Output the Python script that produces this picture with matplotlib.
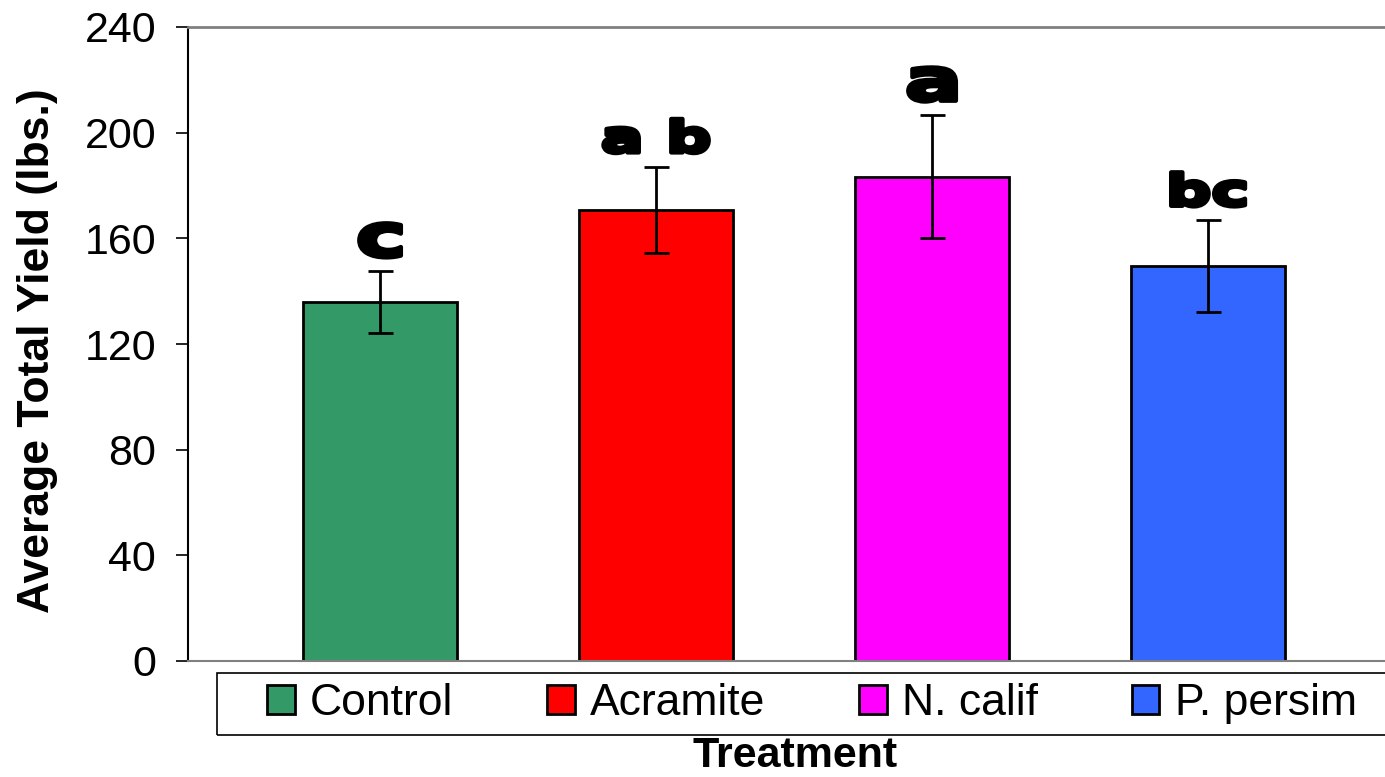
import matplotlib
matplotlib.use("Agg")
import matplotlib.pyplot as plt
from matplotlib.patches import PathPatch, Rectangle
from matplotlib.textpath import TextPath
from matplotlib.font_manager import FontProperties
from matplotlib.transforms import Affine2D
import numpy as np

# data
treatments = ["Control", "Acramite", "N. calif", "P. persim"]
mean_yield = [135.8, 170.7, 183.3, 149.5]
yield_err = [11.7, 16.3, 23.2, 17.3]
sig_letters = ["c", "a b", "a", "bc"]
y_ticks = [0, 40, 80, 120, 160, 200, 240]

COLORS = ["#339966", "#FF0000", "#FF00FF", "#3366FF"]

# letter "stamp" look (wide, heavy)
LETTER_H = 34      # px
LETTER_STRETCH = 1.45
LETTER_GAP = 14    # px above error bar

plt.rcParams["font.family"] = ["Liberation Sans", "DejaVu Sans"]

W, H = 1385, 777
fig = plt.figure(figsize=(W / 100, H / 100), dpi=100)
ax = fig.add_axes([188 / W, 1 - 661 / H, (W - 188) / W, (661 - 27) / H])

x = np.arange(len(treatments))
bars = ax.bar(x, mean_yield, width=0.558, color=COLORS,
              edgecolor="black", linewidth=2.0, zorder=2)
ax.errorbar(x, mean_yield, yerr=yield_err, fmt="none", ecolor="black",
            elinewidth=2.0, capsize=9, capthick=2.0, zorder=3)

ax.set_xlim(-0.696, 3.641)
ax.set_ylim(0, 240)
ax.set_yticks(y_ticks)
ax.set_xticks([])
ax.tick_params(axis="y", length=9, width=1.2, labelsize=31, pad=14, direction="out")

ax.spines["right"].set_visible(False)
ax.spines["top"].set_color("#808080")
ax.spines["top"].set_linewidth(2)
ax.spines["bottom"].set_color("#808080")
ax.spines["bottom"].set_linewidth(1.5)
ax.spines["left"].set_color("black")
ax.spines["left"].set_linewidth(1.5)

ax.set_ylabel("Average Total Yield (lbs.)", fontsize=32, fontweight="bold")
ax.yaxis.set_label_coords(-0.109, 0.49)

fig.text(795 / W, 1 - 767 / H, "Treatment", fontsize=31, fontweight="bold",
         ha="center", va="baseline")

# significance letters, stretched wide like the original
fp = FontProperties(family="DejaVu Sans", weight="bold")
tops = np.add(mean_yield, yield_err)
for xi, top, s in zip(x, tops, sig_letters):
    tp = TextPath((0, 0), s, size=1, prop=fp)
    ext = tp.get_extents()
    sy = LETTER_H / ext.height
    sx = sy * LETTER_STRETCH
    px, py = ax.transData.transform((xi, top))
    tr = (Affine2D().translate(-(ext.x0 + ext.x1) / 2, -ext.y0)
          .scale(sx, sy).translate(px, py + LETTER_GAP))
    ax.add_patch(PathPatch(tp, transform=tr, fc="black", ec="black", lw=3.2,
                           joinstyle="round", zorder=4))

# legend
leg = fig.legend(list(bars.patches), treatments, loc="center", ncol=4, mode="expand",
                 bbox_to_anchor=(267 / W, 1 - 735 / H, (1357 - 267) / W, 63 / H),
                 bbox_transform=fig.transFigure, frameon=False, fontsize=32,
                 handlelength=0.62, handleheight=0.62, handletextpad=0.35,
                 borderpad=0, borderaxespad=0)
fig.add_artist(Rectangle((217 / W, 1 - 735 / H), (1420 - 217) / W, 62 / H,
                         transform=fig.transFigure, fill=False,
                         edgecolor="black", linewidth=1.2))

fig.savefig("out.png", dpi=100)
